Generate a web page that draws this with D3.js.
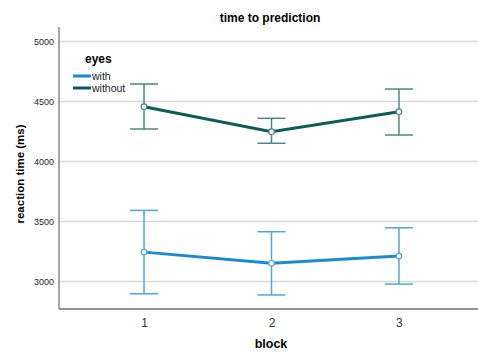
<!doctype html>
<html>
  <head>
    <script src="https://cdn.jsdelivr.net/npm/d3@7/dist/d3.min.js"></script>
    <style>
      body { margin: 0; background: #fff; }
      text { font-family: Arial, "Liberation Sans", sans-serif; }
    </style>
  </head>
  <body>
    <div id="my_dataviz"></div>
    <script>
      // data
      var blocks = [1, 2, 3];
      var yTicks = [3000, 3500, 4000, 4500, 5000];
      var withMean = [3245, 3152, 3212];
      var withLow = [2898, 2888, 2979];
      var withHigh = [3593, 3415, 3448];
      var withoutMean = [4457, 4248, 4415];
      var withoutLow = [4271, 4152, 4221];
      var withoutHigh = [4646, 4360, 4604];

      var series = [
        {name: "with", mean: withMean, low: withLow, high: withHigh, color: "#1a8ad8", bar: "#4ea6e2"},
        {name: "without", mean: withoutMean, low: withoutLow, high: withoutHigh, color: "#0c5c58", bar: "#4a8886"}
      ];

      var margin = {top: 27, right: 0, bottom: 43, left: 59},
        width = 478 - margin.left - margin.right,
        height = 352 - margin.top - margin.bottom;

      var svg = d3.select("#my_dataviz")
        .append("svg")
        .attr("width", 478)
        .attr("height", 352);

      var g = svg.append("g")
        .attr("transform", "translate(" + margin.left + "," + margin.top + ")");

      var x = d3.scaleLinear().domain([0.333, 3.62]).range([0, width]);
      var y = d3.scaleLinear().domain([2771, 5121]).range([height, 0]);

      // gridlines
      g.selectAll(".grid")
        .data(yTicks)
        .enter().append("line")
        .attr("x1", 0).attr("x2", width)
        .attr("y1", function(d) { return y(d); })
        .attr("y2", function(d) { return y(d); })
        .attr("stroke", "#d9d9d9")
        .attr("stroke-width", 1.5);

      // y axis
      var yAxis = g.append("g")
        .call(d3.axisLeft(y).tickValues(yTicks).tickSize(0).tickPadding(5).tickFormat(d3.format("d")));
      yAxis.select(".domain").remove();
      yAxis.selectAll("text").attr("font-size", 9).attr("fill", "#222");

      // x axis
      var xAxis = g.append("g")
        .attr("transform", "translate(0," + height + ")")
        .call(d3.axisBottom(x).tickValues(blocks).tickSize(0).tickPadding(9).tickFormat(d3.format("d")));
      xAxis.select(".domain").remove();
      xAxis.selectAll("text").attr("font-size", 12).attr("fill", "#333");

      // axis lines
      g.append("line")
        .attr("x1", 0).attr("x2", 0).attr("y1", 0).attr("y2", height)
        .attr("stroke", "#8a8a8a").attr("stroke-width", 1.5);
      g.append("line")
        .attr("x1", 0).attr("x2", width).attr("y1", height).attr("y2", height)
        .attr("stroke", "#6f6f6f").attr("stroke-width", 1.5);

      var cap = 14;
      series.forEach(function(s) {
        var pts = blocks.map(function(b, i) {
          return {b: b, m: s.mean[i], lo: s.low[i], hi: s.high[i]};
        });
        var eb = g.append("g");
        eb.selectAll(".v").data(pts).enter().append("line")
          .attr("x1", function(d) { return x(d.b); })
          .attr("x2", function(d) { return x(d.b); })
          .attr("y1", function(d) { return y(d.lo); })
          .attr("y2", function(d) { return y(d.hi); })
          .attr("stroke", s.bar).attr("stroke-width", 1.5);
        ["lo", "hi"].forEach(function(k) {
          eb.selectAll(".c" + k).data(pts).enter().append("line")
            .attr("x1", function(d) { return x(d.b) - cap; })
            .attr("x2", function(d) { return x(d.b) + cap; })
            .attr("y1", function(d) { return y(d[k]); })
            .attr("y2", function(d) { return y(d[k]); })
            .attr("stroke", s.bar).attr("stroke-width", 1.5);
        });
        g.append("path")
          .datum(pts)
          .attr("fill", "none")
          .attr("stroke", s.color)
          .attr("stroke-width", 3)
          .attr("d", d3.line()
            .x(function(d) { return x(d.b); })
            .y(function(d) { return y(d.m); }));
        g.selectAll(".pt-" + s.name).data(pts).enter().append("circle")
          .attr("cx", function(d) { return x(d.b); })
          .attr("cy", function(d) { return y(d.m); })
          .attr("r", 2.8)
          .attr("fill", "#fff")
          .attr("stroke", s.bar)
          .attr("stroke-width", 1.2);
      });

      // title
      svg.append("text")
        .attr("x", 270).attr("y", 22)
        .attr("text-anchor", "middle")
        .attr("font-size", 12).attr("font-weight", "bold")
        .text("time to prediction");

      // axis titles
      svg.append("text")
        .attr("x", 271).attr("y", 348)
        .attr("text-anchor", "middle")
        .attr("font-size", 12.5).attr("font-weight", "bold")
        .text("block");
      svg.append("text")
        .attr("transform", "translate(24,174) rotate(-90)")
        .attr("text-anchor", "middle")
        .attr("font-size", 11.5).attr("font-weight", "bold")
        .text("reaction time (ms)");

      // legend
      var leg = svg.append("g");
      leg.append("text")
        .attr("x", 85).attr("y", 63)
        .attr("font-size", 12).attr("font-weight", "bold")
        .text("eyes");
      series.forEach(function(s, i) {
        var ly = 76 + i * 12;
        leg.append("line")
          .attr("x1", 73).attr("x2", 91).attr("y1", ly).attr("y2", ly)
          .attr("stroke", s.color).attr("stroke-width", 3);
        leg.append("text")
          .attr("x", 92).attr("y", ly + 4)
          .attr("font-size", 10.5).attr("fill", "#222")
          .text(s.name);
      });
    </script>
  </body>
</html>
